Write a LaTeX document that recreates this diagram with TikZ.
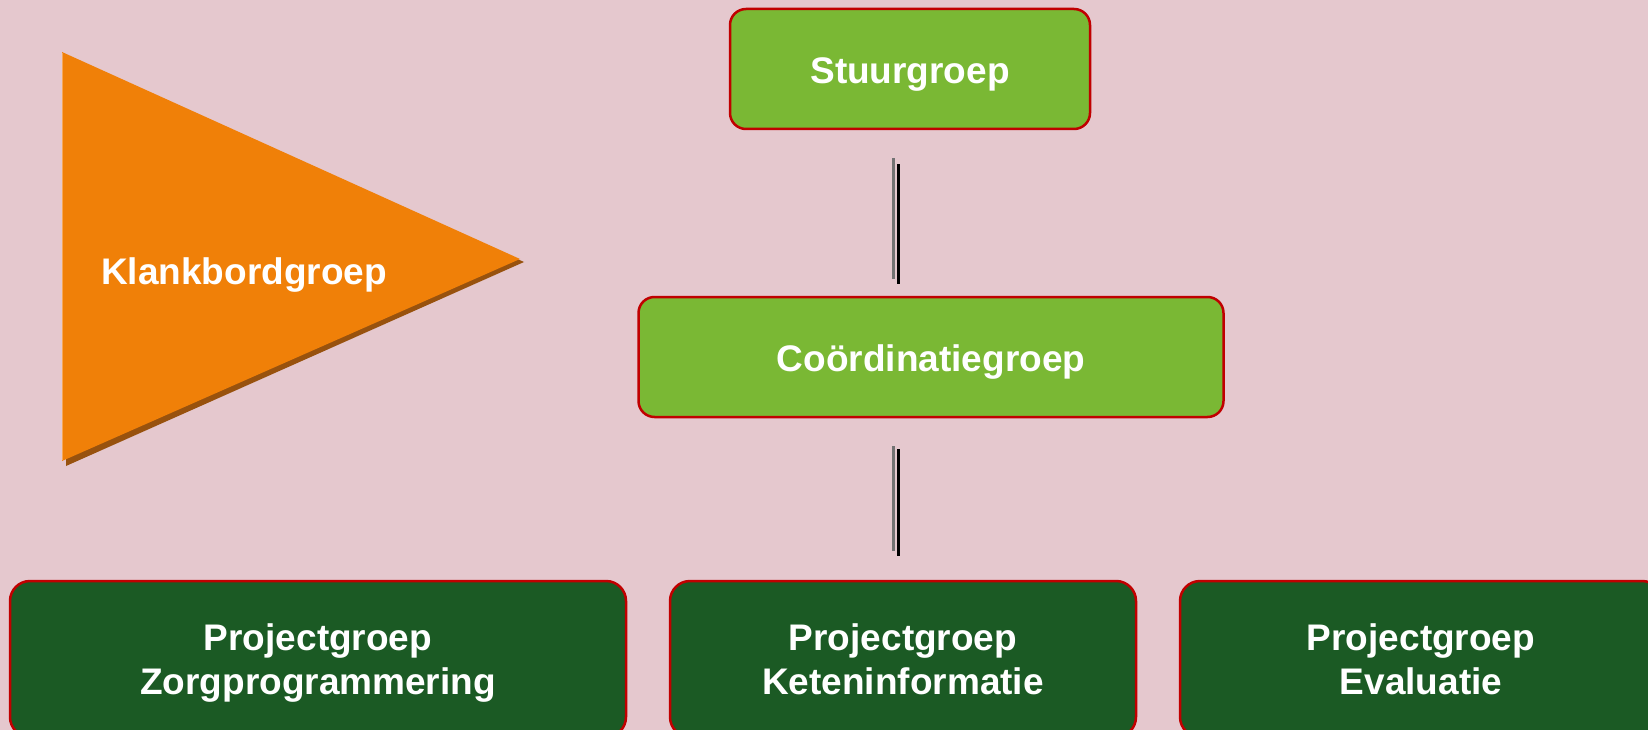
\documentclass[tikz,border=0pt]{standalone}
\usepackage{fontspec}
\usetikzlibrary{calc}
\setmainfont{Liberation Sans}
\definecolor{bgpink}{HTML}{E5C8CE}
\definecolor{lightgreen}{HTML}{7AB834}
\definecolor{darkgreen}{HTML}{1B5A24}
\definecolor{boxred}{HTML}{C00000}
\definecolor{orangefill}{HTML}{F08008}
\definecolor{orangeshadow}{HTML}{98520E}
\definecolor{orangelight}{HTML}{F6A858}
\begin{document}
\begin{tikzpicture}[x=1pt,y=-1pt,
  lbl/.style={text=white,font=\fontsize{37}{44}\selectfont\bfseries,align=center},
  oneline/.style={text height=29pt,text depth=0pt},
  topbox/.style={lbl,oneline,draw=boxred,line width=2.5pt,fill=lightgreen,rounded corners=16pt,inner sep=0pt},
  projbox/.style={lbl,text depth=0pt,draw=boxred,line width=2.5pt,fill=darkgreen,rounded corners=20pt,inner sep=0pt,minimum height=156pt},
  connA/.style={draw=gray!90!black,line width=3pt},
  connB/.style={draw=black,line width=3.5pt}]
\useasboundingbox (0,0) rectangle (1648,730);
\fill[bgpink] (0,0) rectangle (1648,730);
% triangle
\fill[orangeshadow] (66,57) -- (524,262) -- (66,466) -- cycle;
\fill[orangefill] (62,52) -- (520,259) -- (62,461) -- cycle;
\draw[orangelight,line width=1.5pt] (62.5,53) -- (62.5,460);
\node[lbl,oneline] (klank) at (244,270) {Klankbordgroep};
% top boxes
\node[topbox,minimum width=360pt,minimum height=120pt] (stuur) at (910,69) {Stuurgroep};
\node[topbox,minimum width=585pt,minimum height=120pt] (coord) at (931,357) {Coördinatiegroep};
% bottom boxes
\node[projbox,minimum width=616pt] (zorg) at (318,659) {Projectgroep\\Zorgprogrammering};
\node[projbox,minimum width=466pt] (keten) at (903,659) {Projectgroep\\Keteninformatie};
\node[projbox,minimum width=482pt] (eval) at (1421,659) {Projectgroep\\Evaluatie};
% connector guide lines
\coordinate (gx) at (893.5,0);
\coordinate (bx) at (898.5,0);
% connectors
\draw[connA] ($(stuur.south -| gx)+(0,28)$) -- ($(coord.north -| gx)+(0,-17)$);
\draw[connB] ($(stuur.south -| bx)+(0,34)$) -- ($(coord.north -| bx)+(0,-12)$);
\draw[connA] ($(coord.south -| gx)+(0,28)$) -- ($(keten.north -| gx)+(0,-29)$);
\draw[connB] ($(coord.south -| bx)+(0,31)$) -- ($(keten.north -| bx)+(0,-24)$);
\end{tikzpicture}
\end{document}
